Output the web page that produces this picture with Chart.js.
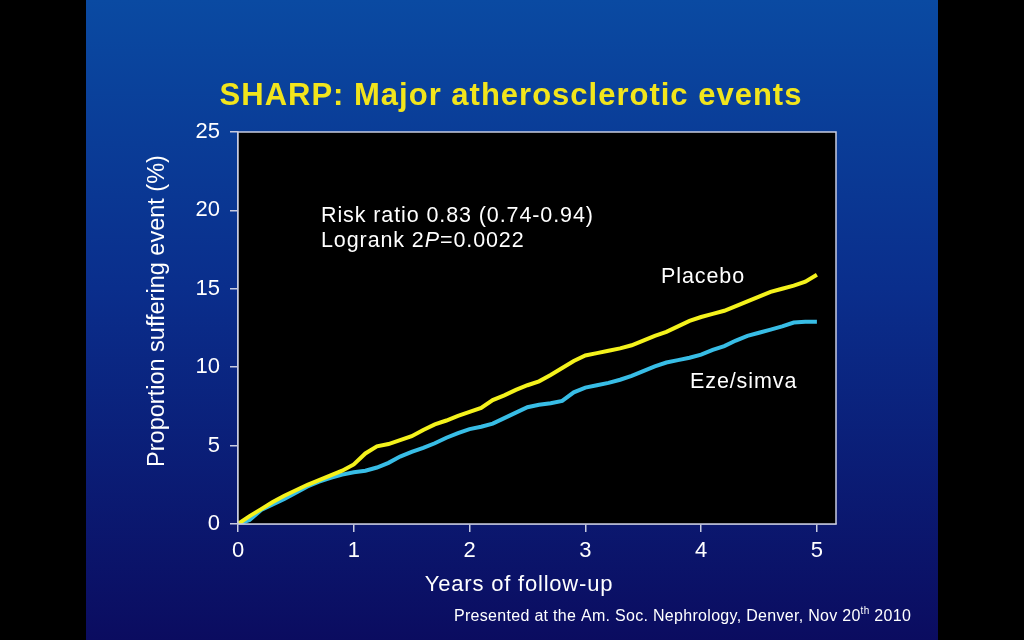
<!DOCTYPE html>
<html>
<head>
<meta charset="utf-8">
<script src="https://cdn.jsdelivr.net/npm/chart.js@4"></script>
<style>
  html, body { margin: 0; padding: 0; background: #000; width: 1024px; height: 640px; overflow: hidden; }
  #panel { position: absolute; left: 86px; top: 0; width: 852px; height: 640px;
           background: linear-gradient(to bottom, #0a4aa2 0%, #0a2e8c 45%, #0b0c60 100%); }
  #c { position: absolute; left: 0; top: 0; }
</style>
</head>
<body>
<div id="panel"></div>
<canvas id="c" width="1024" height="640"></canvas>
<script>
// ---- data ----
const years = [0,0.1,0.2,0.3,0.4,0.5,0.6,0.7,0.8,0.9,1.0,1.1,1.2,1.3,1.4,1.5,1.6,1.7,1.8,1.9,2.0,
               2.1,2.2,2.3,2.4,2.5,2.6,2.7,2.8,2.9,3.0,3.1,3.2,3.3,3.4,3.5,3.6,3.7,3.8,3.9,4.0,
               4.1,4.2,4.3,4.4,4.5,4.6,4.7,4.8,4.9,5.0];
const placebo = [0,0.5,0.95,1.4,1.8,2.15,2.5,2.8,3.1,3.4,3.8,4.5,4.95,5.1,5.35,5.6,6.0,6.35,6.6,6.9,7.15,
                 7.4,7.9,8.2,8.55,8.85,9.1,9.5,9.95,10.4,10.75,10.9,11.05,11.2,11.4,11.7,12.0,12.25,12.6,12.95,13.2,
                 13.4,13.6,13.9,14.2,14.5,14.8,15.0,15.2,15.45,15.9];
const ezeSimva = [0,0.25,0.9,1.25,1.6,2.0,2.4,2.7,2.95,3.15,3.3,3.4,3.6,3.9,4.3,4.6,4.85,5.15,5.5,5.8,6.05,
                  6.2,6.4,6.75,7.1,7.45,7.6,7.7,7.85,8.4,8.7,8.85,9.0,9.2,9.45,9.75,10.05,10.3,10.45,10.6,10.8,
                  11.1,11.35,11.7,12.0,12.2,12.4,12.6,12.85,12.9,12.9];
const xTicks = [0,1,2,3,4,5];
const yTicks = [0,5,10,15,20,25];
const seriesNames = ['Placebo','Eze/simva'];

const FONT = "'Liberation Sans', Arial, Helvetica, sans-serif";
const AXIS = '#c8cbe0';

const toPts = (arr) => arr.map((v,i) => ({x: years[i], y: v}));

function spaced(ctx, sp) { if ('letterSpacing' in ctx) ctx.letterSpacing = sp + 'px'; }

const decor = {
  id: 'decor',
  beforeDatasetsDraw(chart) {
    const {ctx, chartArea: a} = chart;
    ctx.save();
    ctx.fillStyle = '#000';
    ctx.fillRect(a.left, a.top, a.right - a.left, a.bottom - a.top);
    ctx.restore();
  },
  afterDraw(chart) {
    const {ctx, chartArea: a} = chart;
    ctx.save();
    ctx.strokeStyle = AXIS;
    ctx.lineWidth = 1.5;
    ctx.strokeRect(a.left, a.top, a.right - a.left, a.bottom - a.top);

    // title
    ctx.fillStyle = '#f2e51c';
    ctx.font = "bold 31px " + FONT;
    spaced(ctx, 1);
    ctx.textAlign = 'center';
    ctx.textBaseline = 'alphabetic';
    ctx.fillText('SHARP: Major atherosclerotic events', 511, 105);

    ctx.fillStyle = '#ffffff';
    // y axis title
    ctx.save();
    ctx.translate(164, 311);
    ctx.rotate(-Math.PI / 2);
    ctx.font = "23.5px " + FONT;
    spaced(ctx, 0);
    ctx.textAlign = 'center';
    ctx.fillText('Proportion suffering event (%)', 0, 0);
    ctx.restore();

    // x axis title
    ctx.font = "22px " + FONT;
    spaced(ctx, 0.8);
    ctx.textAlign = 'center';
    ctx.fillText('Years of follow-up', 519, 591);

    // annotations
    ctx.font = "21.5px " + FONT;
    spaced(ctx, 0.9);
    ctx.textAlign = 'left';
    ctx.fillText('Risk ratio 0.83 (0.74-0.94)', 321, 222);
    let x = 321;
    const s1 = 'Logrank 2';
    ctx.fillText(s1, x, 247); x += ctx.measureText(s1).width;
    ctx.font = "italic 21.5px " + FONT;
    ctx.fillText('P', x, 247); x += ctx.measureText('P').width;
    ctx.font = "21.5px " + FONT;
    ctx.fillText('=0.0022', x, 247);

    ctx.fillText(seriesNames[0], 661, 283);
    ctx.fillText(seriesNames[1], 690, 388);

    // footnote
    ctx.font = "16px " + FONT;
    spaced(ctx, 0.3);
    x = 454;
    const f1 = 'Presented at the Am. Soc. Nephrology, Denver, Nov 20';
    ctx.fillText(f1, x, 621); x += ctx.measureText(f1).width;
    ctx.font = "10px " + FONT;
    ctx.fillText('th', x, 614); x += ctx.measureText('th').width;
    ctx.font = "16px " + FONT;
    ctx.fillText(' 2010', x, 621);
    ctx.restore();
  }
};

new Chart(document.getElementById('c'), {
  type: 'line',
  data: {
    datasets: [
      { label: seriesNames[0], data: toPts(placebo), borderColor: '#f4f21c', borderWidth: 4,
        pointRadius: 0, tension: 0, fill: false },
      { label: seriesNames[1], data: toPts(ezeSimva), borderColor: '#38bde6', borderWidth: 4,
        pointRadius: 0, tension: 0, fill: false }
    ]
  },
  options: {
    responsive: false,
    animation: false,
    devicePixelRatio: 1,
    layout: { padding: { left: 0, top: 132, right: 188, bottom: 0 } },
    plugins: { legend: { display: false }, tooltip: { enabled: false }, title: { display: false } },
    scales: {
      x: {
        type: 'linear', min: 0, max: 5.165,
        afterFit(scale) { scale.height = 116; },
        afterBuildTicks(scale) { scale.ticks = xTicks.map(v => ({value: v})); },
        grid: { display: true, drawOnChartArea: false, drawTicks: true, tickLength: 8, color: AXIS, lineWidth: 1.5 },
        border: { display: true, color: AXIS, width: 1.5 },
        ticks: { color: '#ffffff', font: { family: FONT, size: 22 }, padding: 6, maxRotation: 0, autoSkip: false }
      },
      y: {
        min: 0, max: 25,
        afterFit(scale) { scale.width = 238; },
        afterBuildTicks(scale) { scale.ticks = yTicks.map(v => ({value: v})); },
        grid: { display: true, drawOnChartArea: false, drawTicks: true, tickLength: 8, color: AXIS, lineWidth: 1.5 },
        border: { display: true, color: AXIS, width: 1.5 },
        ticks: { color: '#ffffff', font: { family: FONT, size: 22 }, padding: 10 }
      }
    }
  },
  plugins: [decor]
});
</script>
</body>
</html>
